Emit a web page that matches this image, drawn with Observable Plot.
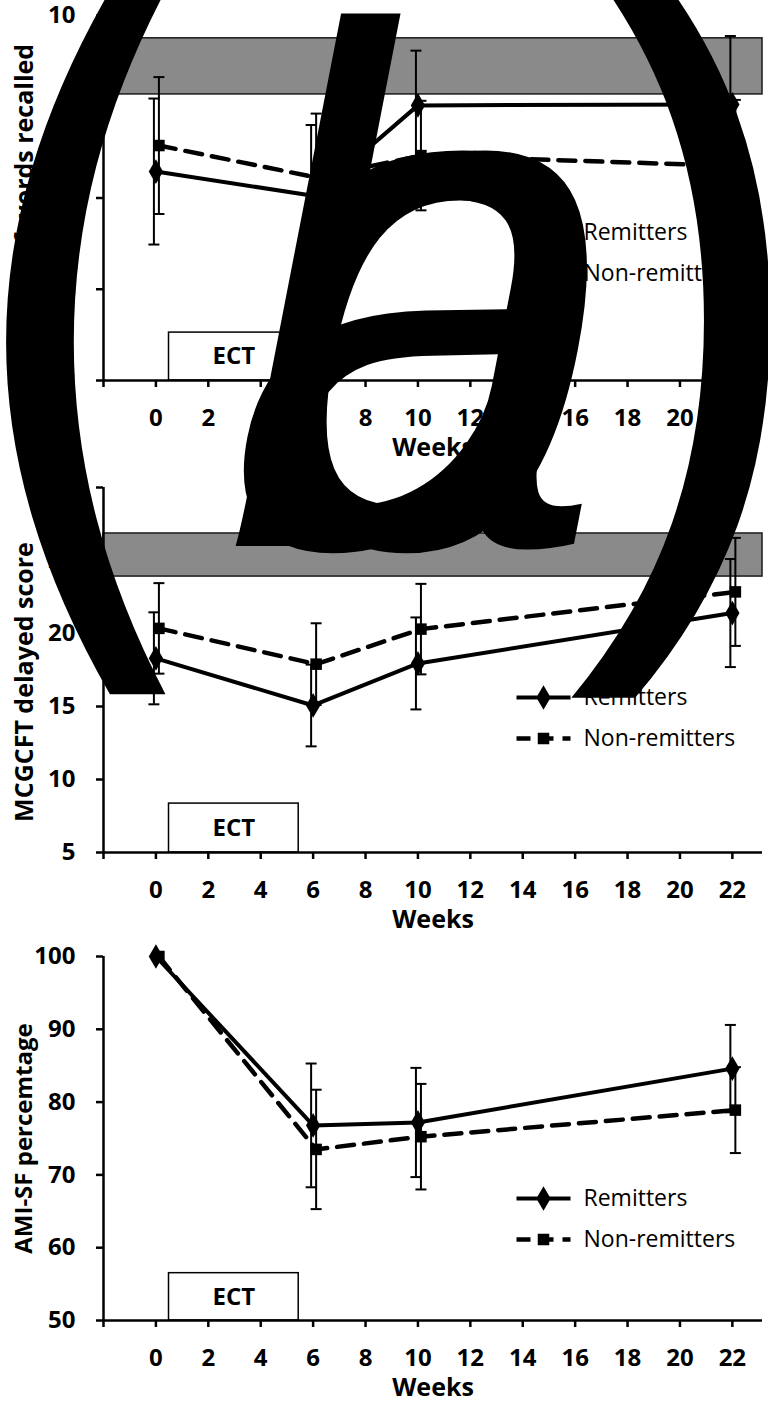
<!DOCTYPE html>
<html><head><meta charset="utf-8">
<script src="https://cdn.jsdelivr.net/npm/d3@7"></script>
<script src="https://cdn.jsdelivr.net/npm/@observablehq/plot@0.6"></script>
<style>
body{margin:0;background:#fff;}
#wrap{position:relative;width:768px;height:1404px;overflow:hidden;background:#fff;}
.panel{position:absolute;left:0;}
#overlay{position:absolute;left:0;top:0;}
</style></head><body><div id="wrap"></div>
<script>
// ---------- data ----------
const weeks = [0, 6, 10, 22];
const xTicks = [-2, 0, 2, 4, 6, 8, 10, 12, 14, 16, 18, 20, 22];
const xDomain = [-2, 23.15];
const seriesNames = ["Remitters", "Non-remitters"];
const ectWeeks = [0.5, 5.45];

// Panel 1: words recalled
const words_rem = [6.58, 6.05, 8.03, 8.05];
const words_rem_sd = [1.6, 1.55, 1.2, 1.5];
const words_non = [7.15, 6.45, 6.93, 6.7];
const words_non_sd = [1.5, 1.4, 1.2, 1.45];
const words_ticks = [2, 4, 6, 8, 10];
const words_band = [8.27, 9.5];
const words_ect_top = 3.05;

// Panel 2: MCGCFT delayed score
const mcg_rem = [18.3, 15.07, 17.95, 21.4];
const mcg_rem_sd = [3.15, 2.8, 3.15, 3.7];
const mcg_non = [20.35, 17.9, 20.3, 22.85];
const mcg_non_sd = [3.1, 2.8, 3.1, 3.7];
const mcg_ticks = [5, 10, 15, 20, 25, 30];
const mcg_band = [23.9, 26.85];
const mcg_ect_top = 8.35;

// Panel 3: AMI-SF percentage
const ami_rem = [100, 76.8, 77.2, 84.6];
const ami_rem_sd = [0, 8.5, 7.5, 6.0];
const ami_non = [100, 73.5, 75.25, 78.9];
const ami_non_sd = [0, 8.2, 7.25, 5.9];
const ami_ticks = [50, 60, 70, 80, 90, 100];
const ami_ect_top = 56.5;

const FONT = "'Open Sans', 'DejaVu Sans', sans-serif";

// custom symbols
const capSymbol = {draw(ctx){ ctx.moveTo(-5.5,0); ctx.lineTo(5.5,0); }};
const legendLine = {draw(ctx){ ctx.moveTo(-27,0); ctx.lineTo(27,0); }};

function makeRows(rem, remSd, non, nonSd){
  const rows = [];
  weeks.forEach((w,i)=>{
    rows.push({series: seriesNames[0], week: w, v: rem[i], sd: remSd[i]});
    rows.push({series: seriesNames[1], week: w, v: non[i], sd: nonSd[i]});
  });
  return rows;
}

function panel({top, height, marginTop, marginBottom, yTicks, yLabel, labelDy, labelSize, rows, band, ectTop, legendDy}){
  const yDomain = [yTicks[0], yTicks[yTicks.length-1]];
  const rem = rows.filter(d=>d.series===seriesNames[0]);
  const non = rows.filter(d=>d.series===seriesNames[1]);
  const bars = rows.filter(d=>d.sd>0);
  const barsRem = bars.filter(d=>d.series===seriesNames[0]);
  const barsNon = bars.filter(d=>d.series===seriesNames[1]);
  const marks = [];
  if (band) marks.push(Plot.rect([band], {y1: d=>d[0], y2: d=>d[1], fill:"#8a8a8a", stroke:"#1a1a1a", strokeWidth:1.5}));
  // ECT box
  marks.push(Plot.rect([{a:ectWeeks[0], b:ectWeeks[1], t:ectTop}], {x1:"a", x2:"b", y1:()=>yDomain[0], y2:"t", fill:"#fff", stroke:"#000", strokeWidth:1.5}));
  marks.push(Plot.text([{a:ectWeeks[0], b:ectWeeks[1], t:ectTop}], {x:d=>(d.a+d.b)/2, y:d=>(yDomain[0]+d.t)/2, text:()=>"ECT", fontSize:24, fontWeight:"bold", fontFamily:FONT, fill:"#000"}));
  // axes
  marks.push(Plot.axisY({ticks:yTicks, tickSize:7, tickPadding:21, fontSize:24, fontWeight:"bold", fontFamily:FONT, strokeWidth:2.5, label:null}));
  marks.push(Plot.axisX({ticks:xTicks, tickSize:7, tickPadding:21, tickFormat:d=> d<0 ? "" : String(d), fontSize:24, fontWeight:"bold", fontFamily:FONT, strokeWidth:2.5, label:null}));
  marks.push(Plot.ruleY([yDomain[0]], {stroke:"#000", strokeWidth:2.5}));
  marks.push(Plot.ruleX([xDomain[0]], {stroke:"#000", strokeWidth:2.5}));
  // titles
  marks.push(Plot.text([yLabel], {frameAnchor:"left", rotate:-90, dx:-79, dy:labelDy, textAnchor:"middle", fontSize:labelSize, fontWeight:"bold", fontFamily:FONT, fill:"#000"}));
  marks.push(Plot.text(["Weeks"], {frameAnchor:"bottom", dy:67, lineAnchor:"middle", fontSize:25, fontWeight:"bold", fontFamily:FONT, fill:"#000"}));
  // error bars
  marks.push(Plot.ruleX(barsRem, {x:"week", y1:d=>d.v-d.sd, y2:d=>d.v+d.sd, dx:-2, stroke:"#000", strokeWidth:2}));
  marks.push(Plot.ruleX(barsNon, {x:"week", y1:d=>d.v-d.sd, y2:d=>d.v+d.sd, dx:3, stroke:"#000", strokeWidth:2}));
  marks.push(Plot.dot(barsRem, {x:"week", y:d=>d.v-d.sd, dx:-2, symbol:capSymbol, stroke:"#000", fill:"none", strokeWidth:2}));
  marks.push(Plot.dot(barsRem, {x:"week", y:d=>d.v+d.sd, dx:-2, symbol:capSymbol, stroke:"#000", fill:"none", strokeWidth:2}));
  marks.push(Plot.dot(barsNon, {x:"week", y:d=>d.v-d.sd, dx:3, symbol:capSymbol, stroke:"#000", fill:"none", strokeWidth:2}));
  marks.push(Plot.dot(barsNon, {x:"week", y:d=>d.v+d.sd, dx:3, symbol:capSymbol, stroke:"#000", fill:"none", strokeWidth:2}));
  // lines
  marks.push(Plot.line(non, {x:"week", y:"v", dx:3, stroke:"#000", strokeWidth:4.5, strokeDasharray:"17,10"}));
  marks.push(Plot.line(rem, {x:"week", y:"v", stroke:"#000", strokeWidth:4}));
  marks.push(Plot.dot(non, {x:"week", y:"v", dx:3, symbol:"square", r:6.5, fill:"#000"}));
  marks.push(Plot.dot(rem, {x:"week", y:"v", symbol:"diamond", r:7.5, fill:"#000"}));
  // legend
  marks.push(Plot.dot([seriesNames[0]], {frameAnchor:"top-left", dx:440, dy:legendDy, symbol:legendLine, stroke:"#000", strokeWidth:4, fill:"none"}));
  marks.push(Plot.dot([seriesNames[0]], {frameAnchor:"top-left", dx:440, dy:legendDy, symbol:"diamond", r:7.5, fill:"#000"}));
  marks.push(Plot.text([seriesNames[0]], {frameAnchor:"top-left", dx:480, dy:legendDy, text:d=>d, textAnchor:"start", lineAnchor:"middle", fontSize:23, fontFamily:FONT, fill:"#000"}));
  marks.push(Plot.dot([seriesNames[1]], {frameAnchor:"top-left", dx:440, dy:legendDy+41, symbol:legendLine, stroke:"#000", strokeWidth:4.5, strokeDasharray:"14,9", fill:"none"}));
  marks.push(Plot.dot([seriesNames[1]], {frameAnchor:"top-left", dx:440, dy:legendDy+41, symbol:"square", r:6.5, fill:"#000"}));
  marks.push(Plot.text([seriesNames[1]], {frameAnchor:"top-left", dx:480, dy:legendDy+41, text:d=>d, textAnchor:"start", lineAnchor:"middle", fontSize:23, fontFamily:FONT, fill:"#000"}));

  const svg = Plot.plot({
    width:768, height, marginTop, marginBottom, marginLeft:103, marginRight:6,
    x:{domain:xDomain}, y:{domain:yDomain},
    style:{fontFamily:FONT, color:"#000", background:"transparent", overflow:"visible"},
    marks
  });
  svg.classList.add("panel");
  svg.style.top = top + "px";
  svg.style.position = "absolute";
  return svg;
}

const wrap = document.getElementById("wrap");
wrap.appendChild(panel({top:0, height:470, marginTop:15, marginBottom:90, yTicks:words_ticks, yLabel:"Number of words recalled", labelDy:8, labelSize:25,
  rows:makeRows(words_rem, words_rem_sd, words_non, words_non_sd), band:words_band, ectTop:words_ect_top, legendDy:217}));
wrap.appendChild(panel({top:470, height:460, marginTop:17, marginBottom:78, yTicks:mcg_ticks, yLabel:"MCGCFT delayed score", labelDy:12, labelSize:25,
  rows:makeRows(mcg_rem, mcg_rem_sd, mcg_non, mcg_non_sd), band:mcg_band, ectTop:mcg_ect_top, legendDy:210}));
wrap.appendChild(panel({top:930, height:474, marginTop:26, marginBottom:84, yTicks:ami_ticks, yLabel:"AMI-SF percemtage", labelDy:0, labelSize:24,
  rows:makeRows(ami_rem, ami_rem_sd, ami_non, ami_non_sd), band:null, ectTop:ami_ect_top, legendDy:242}));

// giant overlaid panel label
const ns = "http://www.w3.org/2000/svg";
const ov = document.createElementNS(ns, "svg");
ov.setAttribute("id","overlay"); ov.setAttribute("width",768); ov.setAttribute("height",760);
ov.innerHTML = `
<g fill="#000">
  <g transform="translate(-55,590) scale(0.9,1)" font-size="790" font-family="'DejaVu Sans', sans-serif"><text>(</text></g>
  <g transform="translate(192,546) skewX(-11) scale(0.92,1)" font-size="735" font-family="'Liberation Sans', Arial, sans-serif"><text>b</text><text x="6">a</text></g>
  <g transform="translate(567,530) scale(1,1.08)" font-size="750" font-family="'Liberation Sans', Arial, sans-serif"><text>)</text></g>
</g>`;
wrap.appendChild(ov);
</script></body></html>
